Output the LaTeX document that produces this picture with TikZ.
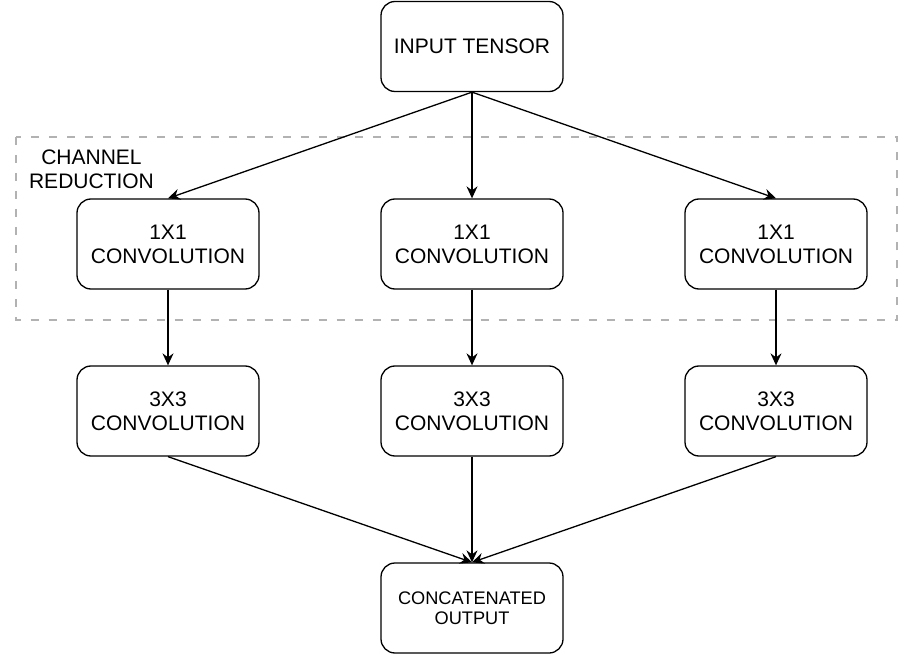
\documentclass[tikz,border=0pt]{standalone}
\usepackage{fontspec}
\setmainfont{Liberation Sans}
\usetikzlibrary{arrows.meta}

\begin{document}
\begin{tikzpicture}[x=1pt,y=-1pt,line width=1.3pt,
  box/.style={draw,rounded corners=14pt,minimum width=182pt,minimum height=90pt,align=center,inner sep=0pt,font=\fontsize{21}{24}\selectfont},
  arr/.style={-{Stealth[length=12pt,width=11pt,inset=4pt]}}]
\useasboundingbox (0,0) rectangle (900,655);

% channel reduction frame
\draw[gray!60,line width=2pt,dash pattern=on 8pt off 10pt] (15.5,137) rectangle (897,320);
\node[align=center,font=\fontsize{21}{24}\selectfont] (lbl) at (91.5,169.5) {CHANNEL\\REDUCTION};

\node[box] (input) at (472,46.5) {INPUT TENSOR};

\node[box] (redA) at (168,244) {1X1\\CONVOLUTION};
\node[box] (redB) at (472,244) {1X1\\CONVOLUTION};
\node[box] (redC) at (776,244) {1X1\\CONVOLUTION};

\node[box] (convA) at (168,411) {3X3\\CONVOLUTION};
\node[box] (convB) at (472,411) {3X3\\CONVOLUTION};
\node[box] (convC) at (776,411) {3X3\\CONVOLUTION};

\node[box,font=\fontsize{18.2}{20.5}\selectfont] (out) at (472,608) {CONCATENATED\\OUTPUT};

\foreach \b in {A,B,C}{
  \draw[arr] (input.south) -- (red\b.north);
  \draw[arr] (red\b.south) -- (conv\b.north);
  \draw[arr] (conv\b.south) -- (out.north);
}

\end{tikzpicture}
\end{document}
